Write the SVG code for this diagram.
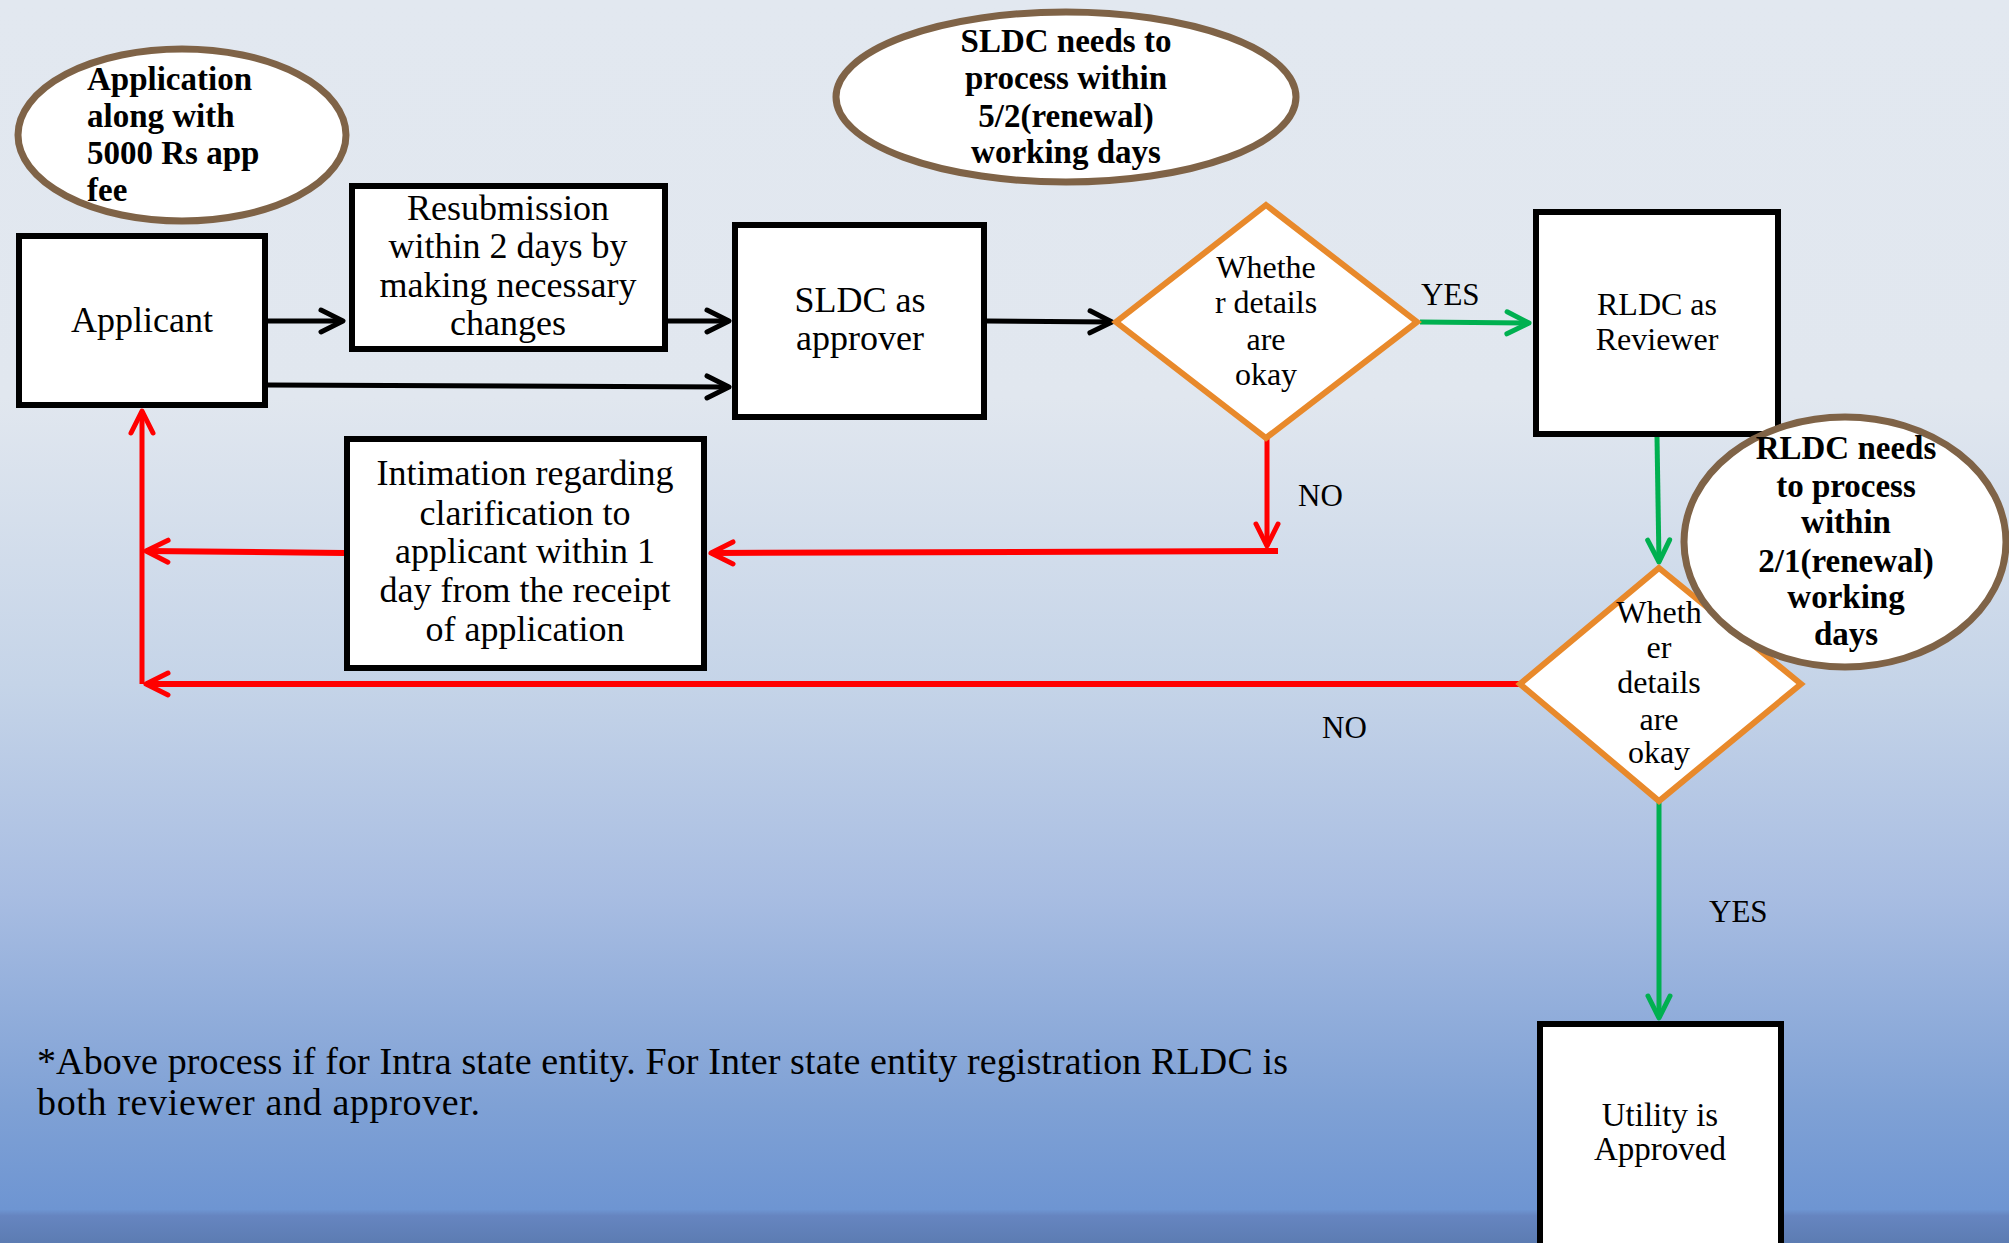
<svg xmlns="http://www.w3.org/2000/svg" width="2009" height="1243" viewBox="0 0 2009 1243">
<defs>
<linearGradient id="bg" x1="0" y1="0" x2="0" y2="1">
<stop offset="0" stop-color="#E2E8F0"/>
<stop offset="0.32" stop-color="#E1E7EF"/>
<stop offset="0.55" stop-color="#C5D4E8"/>
<stop offset="0.72" stop-color="#A8BDE2"/>
<stop offset="0.89" stop-color="#7FA1D5"/>
<stop offset="0.973" stop-color="#6E95D2"/>
<stop offset="0.978" stop-color="#6685C0"/>
<stop offset="1" stop-color="#5C7CB2"/>
</linearGradient>
<marker id="ab" markerUnits="userSpaceOnUse" markerWidth="40" markerHeight="40" viewBox="-30 -20 40 40" refX="0" refY="0" orient="auto" overflow="visible">
<path d="M-22,-11 L0,0 L-22,11" fill="none" stroke="#000" stroke-width="5" stroke-linecap="round" stroke-linejoin="round"/>
</marker>
<marker id="ag" markerUnits="userSpaceOnUse" markerWidth="40" markerHeight="40" viewBox="-30 -20 40 40" refX="0" refY="0" orient="auto" overflow="visible">
<path d="M-22,-11 L0,0 L-22,11" fill="none" stroke="#00B050" stroke-width="5" stroke-linecap="round" stroke-linejoin="round"/>
</marker>
<marker id="ar" markerUnits="userSpaceOnUse" markerWidth="40" markerHeight="40" viewBox="-30 -20 40 40" refX="0" refY="0" orient="auto" overflow="visible">
<path d="M-22,-11 L0,0 L-22,11" fill="none" stroke="#FF0000" stroke-width="5" stroke-linecap="round" stroke-linejoin="round"/>
</marker>
</defs>
<style>
.box{fill:#fff;stroke:#000;stroke-width:6}
.dia{fill:#fff;stroke:#E8892B;stroke-width:6;stroke-linejoin:miter}
.ell{fill:#fff;stroke:#7F6347;stroke-width:7}
.t{font-family:"Liberation Serif","Times New Roman",serif;fill:#000;text-anchor:middle}
.b{font-family:"Liberation Serif","Times New Roman",serif;font-weight:bold;fill:#000;font-size:33px}
.s36{font-size:36px}
.s32{font-size:32px}
.s33{font-size:33px}
.lbl{font-family:"Liberation Serif","Times New Roman",serif;fill:#000;font-size:31px}
.cb{fill:none;stroke:#000;stroke-width:5}
.cg{fill:none;stroke:#00B050;stroke-width:5}
.cr{fill:none;stroke:#FF0000;stroke-width:5}
.cr6{fill:none;stroke:#FF0000;stroke-width:6}
</style>
<rect x="0" y="0" width="2009" height="1243" fill="url(#bg)"/>

<g id="connectors">
<path class="cb" d="M268 321 L343 321" marker-end="url(#ab)"/>
<path class="cb" d="M668 321 L729 321" marker-end="url(#ab)"/>
<path class="cb" d="M268 385 L729 387" marker-end="url(#ab)"/>
<path class="cb" d="M987 321 L1112 322" marker-end="url(#ab)"/>
<path class="cg" d="M1420 322 L1529 323" marker-end="url(#ag)"/>
<path class="cg" d="M1657 437 L1659 562" marker-end="url(#ag)"/>
<path class="cg" d="M1659 801 L1659 1018" marker-end="url(#ag)"/>
<path class="cr" d="M1267 438 L1267 546" marker-end="url(#ar)"/>
<path class="cr6" d="M1278 551 L711 553" marker-end="url(#ar)"/>
<path class="cr6" d="M344 553 L146 551" marker-end="url(#ar)"/>
<path class="cr" d="M142 684 L142 411" marker-end="url(#ar)"/>
<path class="cr6" d="M1520 684 L146 684" marker-end="url(#ar)"/>
</g>

<g id="note-application">
<ellipse class="ell" cx="182" cy="135" rx="164" ry="86"/>
<text class="b" x="87" y="90">Application</text>
<text class="b" x="87" y="127">along with</text>
<text class="b" x="87" y="164">5000 Rs app</text>
<text class="b" x="87" y="201">fee</text>
</g>

<g id="note-sldc">
<ellipse class="ell" cx="1066" cy="97" rx="230" ry="85"/>
<text class="b" x="1066" y="52" text-anchor="middle">SLDC needs to</text>
<text class="b" x="1066" y="89" text-anchor="middle">process within</text>
<text class="b" x="1066" y="127" text-anchor="middle">5/2(renewal)</text>
<text class="b" x="1066" y="163" text-anchor="middle">working days</text>
</g>

<g id="applicant">
<rect class="box" x="19" y="236" width="246" height="169"/>
<text class="t s36" x="142" y="332">Applicant</text>
</g>

<g id="resubmission">
<rect class="box" x="352" y="186" width="313" height="163"/>
<text class="t s36" x="508" y="220">Resubmission</text>
<text class="t s36" x="508" y="258">within 2 days by</text>
<text class="t s36" x="508" y="297">making necessary</text>
<text class="t s36" x="508" y="335">changes</text>
</g>

<g id="sldc">
<rect class="box" x="735" y="225" width="249" height="192"/>
<text class="t s36" x="860" y="312">SLDC as</text>
<text class="t s36" x="860" y="350">approver</text>
</g>

<g id="decision1">
<polygon class="dia" points="1266,205 1417,322 1266,438 1116,322"/>
<text class="t s32" x="1266" y="278">Whethe</text>
<text class="t s32" x="1266" y="313">r details</text>
<text class="t s32" x="1266" y="350">are</text>
<text class="t s32" x="1266" y="385">okay</text>
</g>

<g id="rldc">
<rect class="box" x="1536" y="212" width="242" height="222"/>
<text class="t s32" x="1657" y="315">RLDC as</text>
<text class="t s32" x="1657" y="350">Reviewer</text>
</g>

<g id="intimation">
<rect class="box" x="347" y="439" width="357" height="229"/>
<text class="t s36" x="525" y="485">Intimation regarding</text>
<text class="t s36" x="525" y="525">clarification to</text>
<text class="t s36" x="525" y="563">applicant within 1</text>
<text class="t s36" x="525" y="602">day from the receipt</text>
<text class="t s36" x="525" y="641">of application</text>
</g>

<g id="decision2">
<polygon class="dia" points="1659,568 1801,684 1659,801 1520,684"/>
<text class="t s32" x="1659" y="623">Wheth</text>
<text class="t s32" x="1659" y="658">er</text>
<text class="t s32" x="1659" y="693">details</text>
<text class="t s32" x="1659" y="730">are</text>
<text class="t s32" x="1659" y="763">okay</text>
</g>

<g id="note-rldc">
<ellipse class="ell" cx="1845" cy="542" rx="161" ry="125"/>
<text class="b" x="1846" y="459" text-anchor="middle">RLDC needs</text>
<text class="b" x="1846" y="497" text-anchor="middle">to process</text>
<text class="b" x="1846" y="533" text-anchor="middle">within</text>
<text class="b" x="1846" y="572" text-anchor="middle">2/1(renewal)</text>
<text class="b" x="1846" y="608" text-anchor="middle">working</text>
<text class="b" x="1846" y="645" text-anchor="middle">days</text>
</g>

<g id="utility">
<rect class="box" x="1540" y="1024" width="241" height="240"/>
<text class="t s33" x="1660" y="1126">Utility is</text>
<text class="t s33" x="1660" y="1160">Approved</text>
</g>

<g id="labels">
<text class="lbl" x="1421" y="305">YES</text>
<text class="lbl" x="1298" y="506">NO</text>
<text class="lbl" x="1322" y="738">NO</text>
<text class="lbl" x="1709" y="922">YES</text>
</g>

<g id="footnote">
<text class="lbl" style="font-size:38px" x="37" y="1074" textLength="1251">*Above process if for Intra state entity. For Inter state entity registration RLDC is</text>
<text class="lbl" style="font-size:38px" x="37" y="1115" textLength="443">both reviewer and approver.</text>
</g>
</svg>
